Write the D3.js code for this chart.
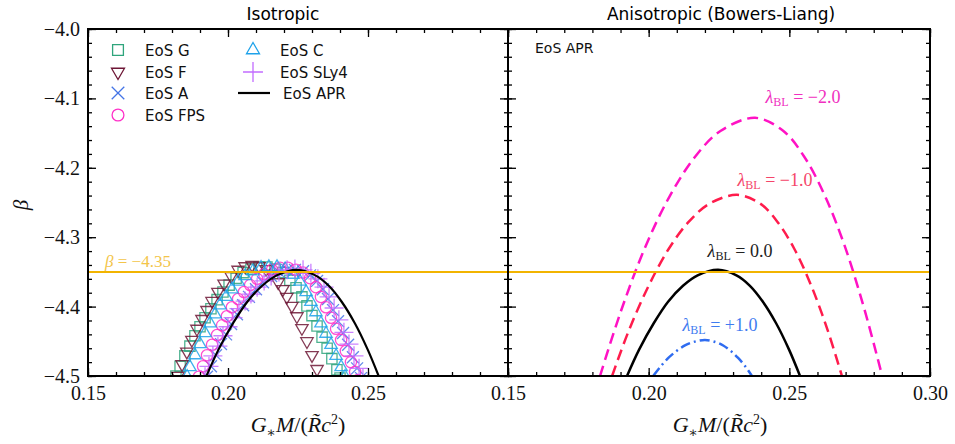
<!DOCTYPE html>
<html><head><meta charset="utf-8">
<script src="https://cdn.jsdelivr.net/npm/d3@7"></script>
<style>body{margin:0;background:#fff}text{font-kerning:normal}</style>
</head><body>
<svg id="c" width="955" height="444"></svg>
<script>
// ---------- data ----------
const xMajor=[0.15,0.20,0.25,0.30];
const xLabelsLeft=[0.15,0.20,0.25];
const xLabelsRight=[0.15,0.20,0.25,0.30];
const yMajor=[-4.0,-4.1,-4.2,-4.3,-4.4,-4.5];
const betaRef=-4.35;
const panelTitles=["Isotropic","Anisotropic (Bowers-Liang)"];

const eosG=[[0.1814,-4.500],[0.1829,-4.486],[0.1846,-4.471],[0.1864,-4.457],[0.1882,-4.442],[0.1900,-4.429],[0.1918,-4.416],[0.1939,-4.403],[0.1961,-4.390],[0.1982,-4.379],[0.2004,-4.369],[0.2029,-4.359],[0.2054,-4.351],[0.2082,-4.346],[0.2111,-4.343],[0.2139,-4.343],[0.2168,-4.346],[0.2196,-4.351],[0.2221,-4.362],[0.2243,-4.373],[0.2264,-4.386],[0.2282,-4.399],[0.2300,-4.413],[0.2318,-4.428],[0.2336,-4.444],[0.2354,-4.460],[0.2371,-4.475],[0.2389,-4.491],[0.2400,-4.503]];
const eosF=[[0.1821,-4.500],[0.1836,-4.483],[0.1853,-4.465],[0.1871,-4.448],[0.1889,-4.432],[0.1907,-4.418],[0.1925,-4.405],[0.1943,-4.392],[0.1964,-4.379],[0.1986,-4.367],[0.2011,-4.356],[0.2036,-4.347],[0.2061,-4.342],[0.2086,-4.340],[0.2111,-4.342],[0.2136,-4.346],[0.2157,-4.353],[0.2179,-4.365],[0.2196,-4.375],[0.2210,-4.386],[0.2228,-4.399],[0.2246,-4.414],[0.2264,-4.431],[0.2282,-4.450],[0.2300,-4.470],[0.2318,-4.490],[0.2332,-4.507]];
const eosA=[[0.1925,-4.501],[0.1939,-4.486],[0.1957,-4.470],[0.1975,-4.454],[0.1993,-4.440],[0.2011,-4.425],[0.2032,-4.411],[0.2054,-4.398],[0.2075,-4.386],[0.2100,-4.375],[0.2125,-4.365],[0.2154,-4.356],[0.2182,-4.350],[0.2211,-4.347],[0.2239,-4.347],[0.2268,-4.349],[0.2293,-4.355],[0.2318,-4.363],[0.2339,-4.375],[0.2357,-4.389],[0.2375,-4.405],[0.2393,-4.421],[0.2411,-4.438],[0.2429,-4.455],[0.2446,-4.473],[0.2461,-4.489],[0.2475,-4.503]];
const eosFPS=[[0.1896,-4.501],[0.1911,-4.486],[0.1925,-4.470],[0.1943,-4.455],[0.1961,-4.441],[0.1979,-4.427],[0.1996,-4.414],[0.2014,-4.401],[0.2036,-4.389],[0.2057,-4.379],[0.2079,-4.369],[0.2104,-4.360],[0.2129,-4.353],[0.2157,-4.347],[0.2186,-4.344],[0.2214,-4.344],[0.2243,-4.347],[0.2268,-4.351],[0.2293,-4.359],[0.2314,-4.372],[0.2332,-4.386],[0.2350,-4.401],[0.2368,-4.416],[0.2386,-4.432],[0.2404,-4.448],[0.2421,-4.464],[0.2439,-4.480],[0.2454,-4.494],[0.2464,-4.506]];
const eosC=[[0.1854,-4.501],[0.1864,-4.487],[0.1882,-4.470],[0.1900,-4.454],[0.1918,-4.438],[0.1936,-4.424],[0.1954,-4.411],[0.1971,-4.398],[0.1993,-4.386],[0.2014,-4.375],[0.2036,-4.364],[0.2061,-4.356],[0.2089,-4.349],[0.2118,-4.344],[0.2146,-4.343],[0.2175,-4.343],[0.2204,-4.346],[0.2232,-4.354],[0.2257,-4.364],[0.2279,-4.379],[0.2296,-4.393],[0.2314,-4.408],[0.2332,-4.424],[0.2350,-4.439],[0.2368,-4.455],[0.2386,-4.471],[0.2404,-4.487],[0.2418,-4.501]];
const eosSLy4=[[0.1918,-4.501],[0.1932,-4.486],[0.1946,-4.471],[0.1964,-4.457],[0.1982,-4.442],[0.2000,-4.429],[0.2018,-4.416],[0.2039,-4.403],[0.2061,-4.392],[0.2082,-4.382],[0.2104,-4.372],[0.2129,-4.363],[0.2154,-4.356],[0.2182,-4.350],[0.2211,-4.347],[0.2239,-4.346],[0.2268,-4.347],[0.2296,-4.352],[0.2321,-4.360],[0.2343,-4.372],[0.2361,-4.386],[0.2379,-4.402],[0.2396,-4.419],[0.2414,-4.437],[0.2432,-4.454],[0.2450,-4.471],[0.2468,-4.489],[0.2482,-4.503]];
const eosAPR=[[0.1923,-4.500],[0.1966,-4.462],[0.2018,-4.424],[0.2069,-4.393],[0.2122,-4.370],[0.2174,-4.355],[0.2247,-4.347],[0.2312,-4.355],[0.2360,-4.370],[0.2406,-4.393],[0.2453,-4.424],[0.2499,-4.462],[0.2538,-4.500]];

const lamM2=[[0.1827,-4.500],[0.1901,-4.407],[0.1988,-4.314],[0.2076,-4.240],[0.2165,-4.184],[0.2255,-4.147],[0.2378,-4.128],[0.2479,-4.147],[0.2553,-4.184],[0.2626,-4.240],[0.2698,-4.314],[0.2769,-4.407],[0.2830,-4.500]];
const lamM1=[[0.1870,-4.500],[0.1929,-4.435],[0.2000,-4.370],[0.2071,-4.317],[0.2142,-4.278],[0.2215,-4.252],[0.2314,-4.239],[0.2398,-4.252],[0.2458,-4.278],[0.2518,-4.317],[0.2578,-4.370],[0.2637,-4.435],[0.2687,-4.500]];
const lam0=eosAPR;
const lamP1=[[0.2016,-4.500],[0.2041,-4.487],[0.2070,-4.474],[0.2099,-4.464],[0.2129,-4.456],[0.2159,-4.451],[0.2200,-4.448],[0.2237,-4.451],[0.2265,-4.456],[0.2292,-4.464],[0.2318,-4.474],[0.2345,-4.487],[0.2367,-4.500]];
const lamLabels=["\u22122.0","\u22121.0","0.0","+1.0"];

// ---------- setup ----------
const svg=d3.select('#c');
const T=29,B=376,L0=88,M=508,R1=930;
const y=d3.scaleLinear().domain([-4.5,-4.0]).range([B,T]);
const xL=d3.scaleLinear().domain([0.15,0.30]).range([L0,M]);
const xR=d3.scaleLinear().domain([0.15,0.30]).range([M,R1]);
const serif="'Liberation Serif','DejaVu Serif',serif";
const sans="'DejaVu Sans',sans-serif";

const defs=svg.append('defs');
defs.append('clipPath').attr('id','clipL').append('rect').attr('x',L0).attr('y',T).attr('width',M-L0).attr('height',B-T);
defs.append('clipPath').attr('id','clipR').append('rect').attr('x',M).attr('y',T).attr('width',R1-M).attr('height',B-T);

// ---------- markers (left) ----------
const series=[
 {name:"EoS G",data:eosG,color:"#2fa57c",sym:d3.symbolSquare2,size:135,rot:0},
 {name:"EoS F",data:eosF,color:"#6e1736",sym:d3.symbolTriangle2,size:110,rot:180},
 {name:"EoS A",data:eosA,color:"#4474e6",sym:d3.symbolX,size:95,rot:0},
 {name:"EoS FPS",data:eosFPS,color:"#ff2fc8",sym:d3.symbolCircle,size:100,rot:0},
 {name:"EoS C",data:eosC,color:"#1ea2ea",sym:d3.symbolTriangle2,size:110,rot:0},
 {name:"EoS SLy4",data:eosSLy4,color:"#c26cff",sym:d3.symbolPlus,size:120,rot:0}
];
const gL=svg.append('g').attr('clip-path','url(#clipL)');
series.forEach(s=>{
  gL.append('g').selectAll('path').data(s.data).join('path')
    .attr('d',d3.symbol(s.sym,s.size))
    .attr('transform',d=>`translate(${xL(d[0])},${y(d[1])}) rotate(${s.rot})`)
    .attr('fill','none').attr('stroke',s.color).attr('stroke-width',1.3).attr('stroke-opacity',0.85);
});
const line=(x)=>d3.line().x(d=>x(d[0])).y(d=>y(d[1])).curve(d3.curveCatmullRom);
gL.append('path').attr('d',line(xL)(eosAPR)).attr('fill','none').attr('stroke','#000').attr('stroke-width',2.2);

// ---------- right curves ----------
const gR=svg.append('g').attr('clip-path','url(#clipR)');
const curves=[
 {data:lamM2,color:"#ff12c4",dash:"11,6",label:lamLabels[0],lx:803,ly:103,lc:"#f02fc0"},
 {data:lamM1,color:"#ff1c4c",dash:"11,6",label:lamLabels[1],lx:775,ly:186,lc:"#f5456a"},
 {data:lam0,color:"#000",dash:null,label:lamLabels[2],lx:740,ly:257,lc:"#222"},
 {data:lamP1,color:"#2f6cf0",dash:"10,4,2,4",label:lamLabels[3],lx:720,ly:331,lc:"#3f7cf0"}
];
curves.forEach(c=>{
  const p=gR.append('path').attr('d',line(xR)(c.data)).attr('fill','none').attr('stroke',c.color).attr('stroke-width',2.5);
  if(c.dash)p.attr('stroke-dasharray',c.dash);
  const t=svg.append('text').attr('x',c.lx).attr('y',c.ly).attr('text-anchor','middle')
    .attr('font-family',serif).attr('font-size',18).attr('fill',c.lc);
  t.append('tspan').attr('font-style','italic').text('\u03bb');
  t.append('tspan').attr('font-size',12).attr('dy',3).text('BL');
  t.append('tspan').attr('dy',-3).text(' = '+c.label);
});

// ---------- reference line ----------
svg.append('line').attr('x1',L0).attr('x2',R1).attr('y1',y(betaRef)).attr('y2',y(betaRef))
  .attr('stroke','#f2b400').attr('stroke-width',2);
const bt=svg.append('text').attr('x',105).attr('y',y(betaRef)-5).attr('font-family',serif).attr('font-size',17).attr('fill','#f3c54a');
bt.append('tspan').attr('font-style','italic').text('\u03b2');
bt.append('tspan').text(' = \u22124.35');

// ---------- axes ----------
const xMinor=d3.range(15,31).map(v=>v/100);
const yMinor=d3.range(0,26).map(v=>-4.5+v*0.02);
function frame(x,left,right,xLabels,showY){
  const fmtX=d=>xLabels.some(v=>Math.abs(v-d)<1e-9)?d3.format('.2f')(d):'';
  const add=(gen,tr)=>{const g=svg.append('g').attr('transform',tr).call(gen);g.select('.domain').remove();
    g.selectAll('line').attr('stroke','#000').attr('stroke-width',1.3);
    g.selectAll('text').attr('font-family',serif).attr('font-size',20).attr('fill','#111');return g;};
  add(d3.axisBottom(x).tickValues(xMajor).tickSize(-8).tickPadding(10).tickFormat(fmtX),`translate(0,${B})`);
  add(d3.axisBottom(x).tickValues(xMinor).tickSize(-4).tickFormat(''),`translate(0,${B})`);
  add(d3.axisTop(x).tickValues(xMajor).tickSize(-8).tickFormat(''),`translate(0,${T})`);
  add(d3.axisTop(x).tickValues(xMinor).tickSize(-4).tickFormat(''),`translate(0,${T})`);
  add(d3.axisLeft(y).tickValues(yMajor).tickSize(-8).tickPadding(8).tickFormat(showY?d3.format('.1f'):''),`translate(${left},0)`);
  add(d3.axisLeft(y).tickValues(yMinor).tickSize(-4).tickFormat(''),`translate(${left},0)`);
  add(d3.axisRight(y).tickValues(yMajor).tickSize(-8).tickFormat(''),`translate(${right},0)`);
  add(d3.axisRight(y).tickValues(yMinor).tickSize(-4).tickFormat(''),`translate(${right},0)`);
  svg.append('rect').attr('x',left).attr('y',T).attr('width',right-left).attr('height',B-T)
    .attr('fill','none').attr('stroke','#000').attr('stroke-width',2);
}
frame(xL,L0,M,xLabelsLeft,true);
frame(xR,M,R1,xLabelsRight,false);

// ---------- titles and labels ----------
svg.append('text').attr('x',283).attr('y',20).attr('text-anchor','middle').attr('font-family',sans).attr('font-size',17).text(panelTitles[0]);
svg.append('text').attr('x',721).attr('y',20).attr('text-anchor','middle').attr('font-family',sans).attr('font-size',17).text(panelTitles[1]);

function xlab(cx){
  const t=svg.append('text').attr('x',cx).attr('y',432).attr('text-anchor','middle').attr('font-family',serif).attr('font-size',22).attr('fill','#111');
  t.append('tspan').attr('font-style','italic').text('G');
  t.append('tspan').attr('font-size',14).attr('dy',5).text('\u2217');
  t.append('tspan').attr('dy',-5).attr('font-style','italic').text('M');
  t.append('tspan').text('/(');
  t.append('tspan').attr('font-style','italic').text('R\u0303');
  t.append('tspan').attr('font-style','italic').text('c');
  t.append('tspan').attr('font-size',14).attr('dy',-8).text('2');
  t.append('tspan').attr('dy',8).text(')');
}
xlab(298);xlab(720);
svg.append('text').attr('transform','translate(28,205) rotate(-90)').attr('text-anchor','middle')
  .attr('font-family',serif).attr('font-style','italic').attr('font-size',21).attr('fill','#111').text('\u03b2');

// legend
const legPos=[[118,50],[118,72],[118,93],[118,115],[253,50],[253,72]];
series.forEach((s,i)=>{
  const [lx,ly]=legPos[i];
  svg.append('path').attr('d',d3.symbol(s.sym,s.size*1.1)()).attr('transform',`translate(${lx},${ly}) rotate(${s.rot})`)
    .attr('fill','none').attr('stroke',s.color).attr('stroke-width',1.3);
  svg.append('text').attr('x',lx+27).attr('y',ly+5.5).attr('font-family',sans).attr('font-size',15).attr('fill','#111').text(s.name);
});
svg.append('line').attr('x1',238).attr('x2',270).attr('y1',93).attr('y2',93).attr('stroke','#000').attr('stroke-width',2.2);
svg.append('text').attr('x',283).attr('y',98.5).attr('font-family',sans).attr('font-size',15).attr('fill','#111').text('EoS APR');
svg.append('text').attr('x',535).attr('y',53).attr('font-family',sans).attr('font-size',14).attr('fill','#111').text('EoS APR');
</script>
</body></html>
